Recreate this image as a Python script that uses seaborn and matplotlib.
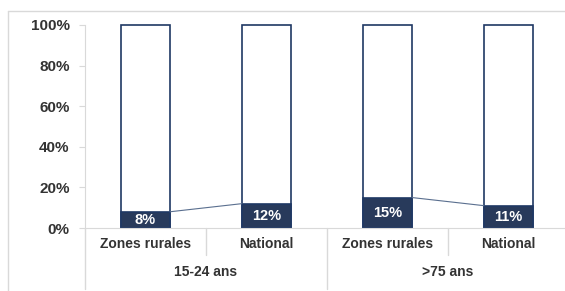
import matplotlib
matplotlib.use("Agg")
import matplotlib.pyplot as plt
import seaborn as sns
import pandas as pd
from matplotlib.lines import Line2D

# data
groups = ["15-24 ans", "15-24 ans", ">75 ans", ">75 ans"]
zones = ["Zones rurales", "National", "Zones rurales", "National"]
values = [0.08, 0.12, 0.15, 0.11]
totals = [1.0, 1.0, 1.0, 1.0]
group_labels = ["15-24 ans", ">75 ans"]

df = pd.DataFrame({"group": groups, "zone": zones, "value": values, "total": totals})
df["key"] = df["group"] + " | " + df["zone"]
order = list(df["key"])

navy = "#1F3864"
grey = "#D9D9D9"
txt = "#333333"

sns.set_style("white")
plt.rcParams["font.family"] = ["Liberation Sans", "DejaVu Sans"]

W, H = 565, 291
fig = plt.figure(figsize=(W / 100, H / 100), dpi=100)
ax = fig.add_axes([85 / W, (H - 228) / H, 484 / W, 203 / H])

bw = 0.405
sns.barplot(data=df, x="key", y="total", order=order, color="white",
            edgecolor=navy, linewidth=1.2, width=bw, ax=ax)
sns.barplot(data=df, x="key", y="value", order=order, color=navy,
            edgecolor=navy, linewidth=1.2, width=bw, ax=ax)
for p in ax.patches:
    p.set_clip_on(False)

# series lines inside each group
for i in (0, 2):
    ax.plot([i + bw / 2, i + 1 - bw / 2], [values[i], values[i + 1]],
            color="#5a6f8f", lw=0.8)

for i, v in enumerate(values):
    ax.text(i, v / 2, f"{round(v * 100)}%", ha="center", va="center",
            color="white", fontsize=10.5, fontweight="bold")

ax.set_ylim(0, 1)
ax.set_xlim(-0.5, 3.5)
ax.set_yticks([0, 0.2, 0.4, 0.6, 0.8, 1.0])
ax.set_yticklabels(["0%", "20%", "40%", "60%", "80%", "100%"])
ax.tick_params(axis="y", length=4, color=grey, pad=7, labelsize=11,
               labelcolor=txt, left=True)
for lab in ax.get_yticklabels():
    lab.set_fontweight("bold")
ax.set_xticks([])
ax.set_xlabel("")
ax.set_ylabel("")
for s in ["top", "right"]:
    ax.spines[s].set_visible(False)
ax.spines["left"].set_color(grey)
ax.spines["bottom"].set_color(grey)

tr = ax.get_xaxis_transform()
for i, z in enumerate(zones):
    ax.text(i, -0.079, z, transform=tr, ha="center", va="center",
            fontsize=10, fontweight="bold", color=txt)
for j, g in enumerate(group_labels):
    ax.text(2 * j + 0.5, -0.217, g, transform=tr, ha="center", va="center",
            fontsize=10, fontweight="bold", color=txt)

# category separators
for x, y0 in [(-0.5, -0.30), (0.5, -0.133), (1.5, -0.30), (2.5, -0.133)]:
    ax.plot([x, x], [0, y0], transform=tr, color=grey, lw=1, clip_on=False)

# outer frame (left and top edges only, the rest is cut off)
fx, fy = 7.5 / W, (H - 10.5) / H
fig.add_artist(Line2D([fx, fx], [0, fy], transform=fig.transFigure, color=grey, lw=1))
fig.add_artist(Line2D([fx, 1], [fy, fy], transform=fig.transFigure, color=grey, lw=1))

fig.savefig("out.png", dpi=100)
